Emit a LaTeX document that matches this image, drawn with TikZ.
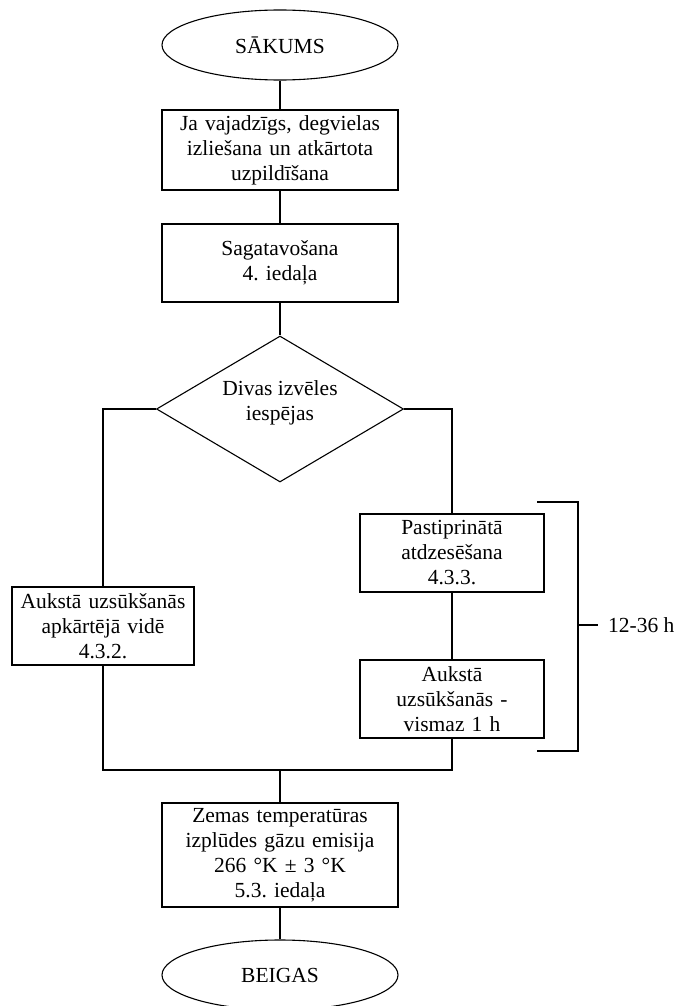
\documentclass[tikz,border=0pt]{standalone}
\usepackage{fontspec}
\setmainfont{Liberation Serif}
\usetikzlibrary{shapes.geometric}
\frenchspacing
\begin{document}
\begin{tikzpicture}[x=1pt,y=-1pt,
  every node/.style={font=\fontsize{21.5}{25}\selectfont, align=center, inner sep=0pt},
  line/.style={line width=1.1pt, black},
  terminal/.style={ellipse, draw, line width=1.1pt, minimum width=236pt, minimum height=70pt},
  stepbox/.style={rectangle, draw, line width=1.1pt, minimum width=#1, text width=#1},
  decision/.style={diamond, draw, line width=1.1pt, minimum width=247pt, minimum height=146pt}
]
\useasboundingbox (0,0) rectangle (677,1006);
\fill[white] (0,0) rectangle (677,1006);

\node[terminal] (start) at (280,45) {SĀKUMS};
\node[stepbox=236pt, minimum height=80pt] (b1) at (280,150) {Ja vajadzīgs, degvielas\\izliešana un atkārtota\\uzpildīšana};
\node[stepbox=236pt, minimum height=78pt] (b2) at (280,263) {Sagatavošana\\4. iedaļa};
\node[decision] (dec) at (280,409) {};
\node (dect) at (280,403) {Divas izvēles\\iespējas};
\node[stepbox=182pt, minimum height=78pt] (L) at (103,626) {Aukstā uzsūkšanās\\apkārtējā vidē\\4.3.2.};
\node[stepbox=184pt, minimum height=78pt] (R1) at (452,553) {Pastiprinātā\\atdzesēšana\\4.3.3.};
\node[stepbox=184pt, minimum height=78pt] (R2) at (452,699) {Aukstā\\uzsūkšanās -\\vismaz 1 h};
\node[stepbox=236pt, minimum height=104pt] (B) at (280,855) {Zemas temperatūras\\izplūdes gāzu emisija\\266 °K ± 3 °K\\5.3. iedaļa};
\node[terminal] (end) at (280,975) {BEIGAS};

\coordinate (mR) at (452,770);
\coordinate (mC) at (280,770);
\draw[line] (start.south) -- (b1.north);
\draw[line] (b1.south) -- (b2.north);
\draw[line] (b2.south) -- (dec.north);
\draw[line] (dec.west) -| (L.north);
\draw[line] (dec.east) -| (R1.north);
\draw[line] (R1.south) -- (R2.north);
\draw[line] (L.south) |- (mR) -- (R2.south);
\draw[line] (mC) -- (B.north);
\draw[line] (B.south) -- (end.north);

% bracket
\coordinate (br1) at (537,502);
\coordinate (br2) at (578,502);
\coordinate (br3) at (578,751);
\coordinate (br4) at (537,751);
\coordinate (brm) at (578,625);
\node[anchor=west, inner xsep=10pt] (lab) at (598,625) {12-36 h};
\draw[line] (br1) -- (br2) -- (br3) -- (br4);
\draw[line] (brm) -- (lab.west);
\end{tikzpicture}
\end{document}
